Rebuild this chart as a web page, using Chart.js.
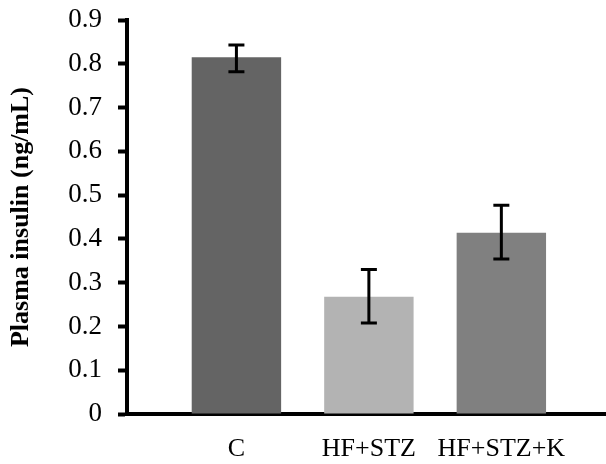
<!DOCTYPE html>
<html>
<head>
<meta charset="utf-8">
<script src="https://cdn.jsdelivr.net/npm/chart.js@4"></script>
<style>
    html, body { margin: 0; padding: 0; background: #fff; }
    #chart { display: block; }
</style>
</head>
<body>
<canvas id="chart" width="606" height="464"></canvas>
<script>
// Chart data
const categories = ['C', 'HF+STZ', 'HF+STZ+K'];
const insulin = [0.815, 0.268, 0.414];
const errUp = [0.028, 0.062, 0.063];
const errDown = [0.033, 0.060, 0.060];
const barColors = ['#646464', '#b3b3b3', '#808080'];
const yTicks = [0, 0.1, 0.2, 0.3, 0.4, 0.5, 0.6, 0.7, 0.8, 0.9];

const serif = '"Liberation Serif", "Times New Roman", serif';

/**
 * Error bars drawn from the scales
 */
const errorBars = {
    id: 'errorBars',
    afterDatasetsDraw(chart) {
        const ctx = chart.ctx;
        const x = chart.scales.x;
        const y = chart.scales.y;
        ctx.save();
        ctx.strokeStyle = '#000';
        ctx.lineWidth = 3;
        insulin.forEach((v, i) => {
            const px = x.getPixelForValue(i);
            const top = y.getPixelForValue(v + errUp[i]);
            const bot = y.getPixelForValue(v - errDown[i]);
            ctx.beginPath();
            ctx.moveTo(px, top);
            ctx.lineTo(px, bot);
            ctx.moveTo(px - 8, top);
            ctx.lineTo(px + 8, top);
            ctx.moveTo(px - 8, bot);
            ctx.lineTo(px + 8, bot);
            ctx.stroke();
        });
        ctx.restore();
    }
};

new Chart(document.getElementById('chart'), {
    type: 'bar',
    data: {
        datasets: [{
            data: insulin.map((v, i) => ({ x: i, y: v })),
            backgroundColor: barColors,
            borderWidth: 0,
            barPercentage: 0.675,
            categoryPercentage: 1
        }]
    },
    options: {
        responsive: false,
        animation: false,
        layout: { padding: { top: 20, right: 0, left: 0, bottom: 0 } },
        plugins: {
            legend: { display: false },
            tooltip: { enabled: false }
        },
        scales: {
            x: {
                type: 'linear',
                offset: false,
                min: -0.826,
                max: 2.79,
                grid: { display: false },
                border: { display: true, color: '#000', width: 4 },
                afterBuildTicks: (scale) => {
                    scale.ticks = categories.map((c, i) => ({ value: i }));
                },
                afterFit: (scale) => {
                    scale.height = 50;
                    scale.paddingLeft = 0;
                    scale.paddingRight = 0;
                },
                ticks: {
                    color: '#000',
                    font: { family: serif, size: 26 },
                    padding: 12,
                    maxRotation: 0,
                    autoSkip: false,
                    callback: (v) => categories[v] ?? ''
                }
            },
            y: {
                min: 0,
                max: 0.9,
                afterBuildTicks: (scale) => {
                    scale.ticks = yTicks.map(v => ({ value: v }));
                },
                afterFit: (scale) => {
                    scale.width = 127;
                    scale.paddingTop = 0;
                    scale.paddingBottom = 0;
                },
                grid: {
                    drawOnChartArea: false,
                    drawTicks: true,
                    tickLength: 9,
                    tickWidth: 4,
                    tickColor: '#000'
                },
                border: { display: true, color: '#000', width: 4 },
                ticks: {
                    color: '#000',
                    font: { family: serif, size: 27 },
                    padding: 16,
                    callback: (v) => String(Math.round(v * 10) / 10)
                },
                title: {
                    display: true,
                    text: 'Plasma insulin (ng/mL)',
                    color: '#000',
                    font: { family: serif, size: 26, weight: 'bold' },
                    padding: { top: 6, bottom: 0 }
                }
            }
        }
    },
    plugins: [errorBars]
});
</script>
</body>
</html>
